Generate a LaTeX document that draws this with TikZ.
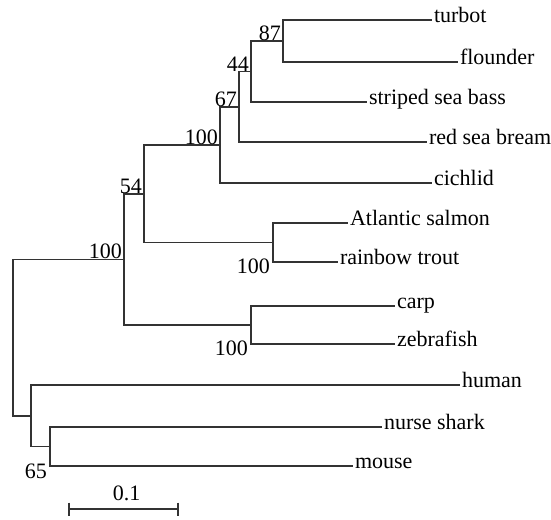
\documentclass[tikz,border=0pt]{standalone}
\usepackage{fontspec}
\setmainfont{Liberation Serif}
\usetikzlibrary{calc}
\tikzset{
  x=1pt, y=-1pt,
  branch/.style = {draw=black!80, line width=1.6pt},
  treefont/.style = {font=\fontsize{22}{25}\selectfont},
  leaf/.style = {treefont, anchor=west, inner sep=2pt, outer sep=0pt, text height=1.5ex, text depth=.25ex},
  bs_up/.style = {treefont, anchor=south east, inner sep=1pt},
  bs_dn/.style = {treefont, anchor=east, inner sep=1pt}
}

\begin{document}
\begin{tikzpicture}
\useasboundingbox (0,0) rectangle (551,519);
% leaves
\node [leaf] (turbot)   at (432,20)  {turbot};
\node [leaf] (flounder) at (458,62)  {flounder};
\node [leaf] (ssb)      at (367,102) {striped sea bass};
\node [leaf] (rsb)      at (427,142) {red sea bream};
\node [leaf] (cichlid)  at (432,183) {cichlid};
\node [leaf] (salmon)   at (348,223) {Atlantic salmon};
\node [leaf] (trout)    at (338,262) {rainbow trout};
\node [leaf] (carp)     at (395,306) {carp};
\node [leaf] (zebra)    at (395,344) {zebrafish};
\node [leaf] (human)    at (460,385) {human};
\node [leaf] (shark)    at (382,427) {nurse shark};
\node [leaf] (mouse)    at (353,466) {mouse};
% inner nodes
\coordinate (n87)   at (283,41);
\coordinate (n44)   at (251,71.5);
\coordinate (n67)   at (239,106.75);
\coordinate (n100a) at (220,144.9);
\coordinate (nSal)  at (273,242.5);
\coordinate (n54)   at (144,193.7);
\coordinate (nCarp) at (251,325);
\coordinate (nA)    at (124,259.35);
\coordinate (nShark) at (50,446.5);
\coordinate (nHum)  at (31,415.75);
\coordinate (nRoot) at (13,337.5);
% branches
\draw [branch] (n87) |- (turbot.west)  (n87) |- (flounder.west);
\draw [branch] (n44) |- (n87)          (n44) |- (ssb.west);
\draw [branch] (n67) |- (n44)          (n67) |- (rsb.west);
\draw [branch] (n100a) |- (n67)        (n100a) |- (cichlid.west);
\draw [branch] (n54) |- (n100a)        (n54) |- (nSal);
\draw [branch] (nSal) |- (salmon.west) (nSal) |- (trout.west);
\draw [branch] (nA) |- (n54)           (nA) |- (nCarp);
\draw [branch] (nCarp) |- (carp.west)  (nCarp) |- (zebra.west);
\draw [branch] (nRoot) |- (nA)         (nRoot) |- (nHum);
\draw [branch] (nHum) |- (human.west)  (nHum) |- (nShark);
\draw [branch] (nShark) |- (shark.west) (nShark) |- (mouse.west);
% bootstrap values
\node [bs_up] (b87)   at ($(n87)+(-1,1)$)   {87};
\node [bs_up] (b44)   at ($(n44)+(-1,1)$)   {44};
\node [bs_up] (b67)   at ($(n67)+(-1,1)$)   {67};
\node [bs_up] (b100a) at ($(n100a)+(-1,1)$) {100};
\node [bs_up] (b54)   at ($(n54)+(-1,1)$)   {54};
\node [bs_up] (b100b) at ($(nA)+(-1,1)$)    {100};
\node [bs_dn] (b100c) at ($(nSal |- trout.west)+(-2,4)$)  {100};
\node [bs_dn] (b100d) at ($(nCarp |- zebra.west)+(-2,4)$) {100};
\node [bs_dn] (b65)   at ($(nShark |- mouse.west)+(-2,5)$) {65};
% scale bar
\coordinate (sbL) at (69,509);
\coordinate (sbR) at (178,509);
\draw [branch] (sbL) -- (sbR);
\draw [branch] ($(sbL)+(0,-6.5)$) -- ($(sbL)+(0,6.5)$);
\draw [branch] ($(sbR)+(0,-6.5)$) -- ($(sbR)+(0,6.5)$);
\node [treefont, inner sep=1pt] (sbtext) at ($(sbL)!.5!(sbR)+(3,-16)$) {0.1};
\end{tikzpicture}
\end{document}
